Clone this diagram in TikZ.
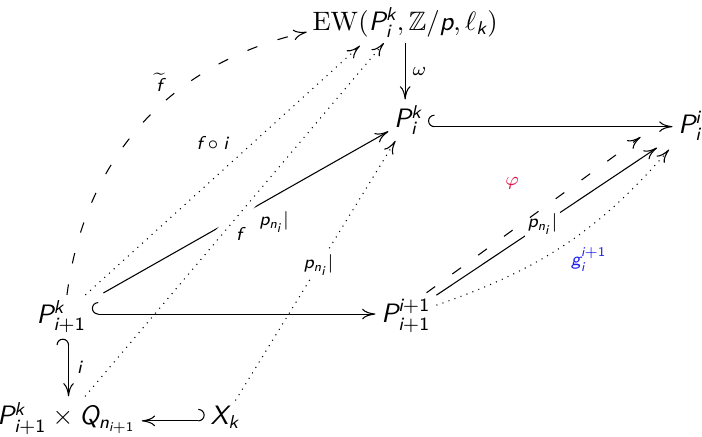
\documentclass[tikz,border=0pt]{standalone}
\usepackage{amsmath,amssymb}
\usetikzlibrary{arrows.meta,positioning,calc}
\definecolor{phired}{RGB}{225,25,75}
\definecolor{gblue}{RGB}{30,30,240}
% sans serif italic letters, as on slides
\DeclareSymbolFont{sfletters}{TU}{lmss}{m}{sl}
\DeclareSymbolFont{sfdigits}{TU}{lmss}{m}{n}
\DeclareMathSymbol{P}{\mathalpha}{sfletters}{`P}
\DeclareMathSymbol{Q}{\mathalpha}{sfletters}{`Q}
\DeclareMathSymbol{X}{\mathalpha}{sfletters}{`X}
\DeclareMathSymbol{f}{\mathalpha}{sfletters}{`f}
\DeclareMathSymbol{g}{\mathalpha}{sfletters}{`g}
\DeclareMathSymbol{i}{\mathalpha}{sfletters}{`i}
\DeclareMathSymbol{k}{\mathalpha}{sfletters}{`k}
\DeclareMathSymbol{n}{\mathalpha}{sfletters}{`n}
\DeclareMathSymbol{p}{\mathalpha}{sfletters}{`p}
\DeclareMathSymbol{1}{\mathalpha}{sfdigits}{`1}

\begin{document}
\begin{tikzpicture}[
    obj/.style={inner sep=2pt, anchor=base},
    lbl/.style={font=\scriptsize, inner sep=1.5pt},
    desc/.style={lbl, fill=white, inner sep=1pt},
    tipto/.style={-{Computer Modern Rightarrow[length=5pt,width=4pt]}},
    hookup/.style={{Hooks[right,length=2.4pt,width=9pt]}-{Computer Modern Rightarrow[length=5pt,width=4pt]}},
    hookdn/.style={{Hooks[left,length=2.4pt,width=9pt]}-{Computer Modern Rightarrow[length=5pt,width=4pt]}},
    dashmap/.style={tipto, dash pattern=on 4pt off 8pt},
    dotmap/.style={tipto, dotted},
    crossgap/.style={preaction={draw=white, solid, -, line width=5.5pt, shorten <=2.2cm, shorten >=2.6cm}},
]
\useasboundingbox (0,0) rectangle (9.27,5.76);

% objects
\node[obj] (EW) at (5.35,5.36) {$\mathrm{EW}(P_i^k,\mathbb{Z}/p,\ell_k)$};
\node[obj] (Pik) at (5.39,4.07) {$P_i^k$};
\node[obj] (Pii) at (9.11,4.00) {$P_i^i$};
\node[obj] (Pk1) at (0.81,1.49) {$P_{i+1}^k$};
\node[obj] (Pi1) at (5.36,1.50) {$P_{i+1}^{i+1}$};
\node[obj] (PQ) at (0.88,0.15) {$P_{i+1}^k\times Q_{n_{i+1}}$};
\node[obj] (Xk) at (2.97,0.15) {$X_k$};

% maps
\draw[tipto] (EW) -- (EW |- Pik.north) node[lbl, midway, right=1pt] {$\omega$};
\draw[hookup] ([yshift=.5pt]Pik.base east) -- ([yshift=.5pt]Pik.base east -| Pii.west);
\draw[tipto, shorten <=5pt] (Pk1) -- (Pik) node[lbl, pos=.55, below right=0pt] {$p_{n_i}|$};
\draw[dotmap, crossgap] (PQ) -- ([xshift=-8pt]EW.south) node[lbl, pos=.49, below right=0pt] {$f$};
\draw[hookup] ([yshift=3.5pt]Pk1.base east) -- ([yshift=3.5pt]Pk1.base east -| Pi1.west);
\draw[hookdn] ([xshift=2.7pt]Pk1.south) -- ([xshift=2.7pt]Pk1.south |- PQ.north) node[lbl, midway, right=1.5pt] {$i$};
\draw[hookdn] ([yshift=1.5pt]Xk.base west) -- ([yshift=1.5pt]Xk.base west -| PQ.east);
\draw[dotmap] (Xk) -- (Pik) node[desc, pos=.52] {$p_{n_i}|$};
\draw[dotmap] (Pk1) -- ([xshift=-17pt,yshift=-1pt]EW.south) node[lbl, pos=.55, above left=2pt] {$f\circ i$};
\draw[dashmap] (Pk1) to[bend left=35] node[lbl, pos=.6, above left=1pt] {$\widetilde{f}$} (EW);
\draw[tipto, shorten >=7pt] (Pi1) -- (Pii) node[desc, pos=.45] {$p_{n_i}|$};
\draw[dashmap] ([xshift=-3.7pt]Pi1.north east) -- ([shift={(-12pt,3.4pt)}]Pii.south west)
    node[lbl, pos=.4, above=14pt, text=phired] {$\varphi$};
\draw[dotmap, shorten >=2pt] (Pi1) to[bend right=15] node[lbl, pos=.5, below right=0pt, text=gblue] {$g_i^{i+1}$} (Pii);
\end{tikzpicture}
\end{document}
